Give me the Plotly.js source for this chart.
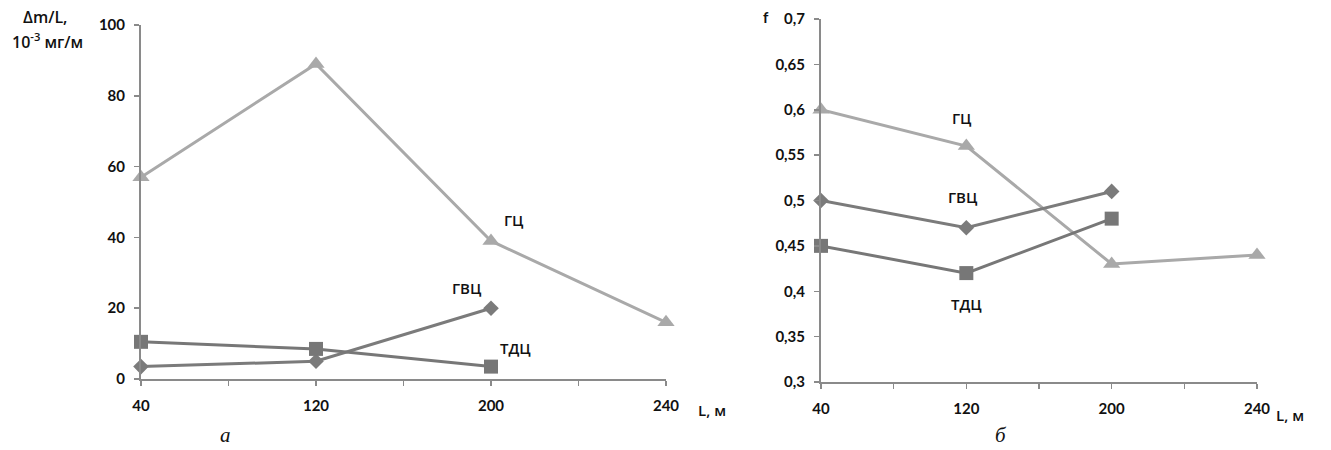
<!DOCTYPE html>
<html><head><meta charset="utf-8">
<script src="https://cdn.plot.ly/plotly-3.0.1.min.js"></script>
<style>html,body{margin:0;padding:0;background:#fff}#c{width:1331px;height:450px}</style>
</head><body><div id="c"></div>
<script>
// Categories (x axis, L, м)
const categories = ['40', '120', '200', '240'];
// Chart a: Δm/L, 10^-3 мг/м
const aGC  = [57, 89, 39, 16];
const aGVC = [3.5, 5, 20];
const aTDC = [10.5, 8.5, 3.5];
// Chart б: f
const bGC  = [0.60, 0.56, 0.43, 0.44];
const bGVC = [0.50, 0.47, 0.51];
const bTDC = [0.45, 0.42, 0.48];
// Tick labels
const aYTicks = [0, 20, 40, 60, 80, 100];
const bYTicks = [0.3, 0.35, 0.4, 0.45, 0.5, 0.55, 0.6, 0.65, 0.7];
const bYTickText = ['0,3','0,35','0,4','0,45','0,5','0,55','0,6','0,65','0,7'];
const seriesNames = ['ГЦ', 'ГВЦ', 'ТДЦ'];

const W = 1331, H = 450;
const idx = categories.map((_, i) => i);
const FONT = {family: 'Lato, "Open Sans", sans-serif', size: 15, color: '#111', weight: 700};
const LFONT = {family: '"Open Sans", sans-serif', size: 15, color: '#111', weight: 600};
const TFONT = {family: '"Open Sans", sans-serif', size: 16, color: '#111', weight: 600};
const AX = '#8a8a8a';
const cGC = '#a9a9a9', cGVC = '#7b7b7b', cTDC = '#777777';

function tr(y, xa, ya, color, sym, size, name) {
  return {x: idx.slice(0, y.length), y: y, xaxis: xa, yaxis: ya, name: name,
    mode: 'lines+markers', cliponaxis: false,
    line: {color: color, width: 3}, marker: {symbol: sym, size: size, color: color}};
}
const data = [
  tr(aGC, 'x', 'y', cGC, 'triangle-up', 15, seriesNames[0]),
  tr(aGVC, 'x', 'y', cGVC, 'diamond', 12, seriesNames[1]),
  tr(aTDC, 'x', 'y', cTDC, 'square', 14, seriesNames[2]),
  tr(bGC, 'x2', 'y2', cGC, 'triangle-up', 15, seriesNames[0]),
  tr(bGVC, 'x2', 'y2', cGVC, 'diamond', 12, seriesNames[1]),
  tr(bTDC, 'x2', 'y2', cTDC, 'square', 14, seriesNames[2])
];

function xax(x0, x1) {
  return {domain: [x0 / W, x1 / W], range: [0, 3], tickvals: idx, ticktext: categories,
    showline: true, linecolor: AX, linewidth: 2, ticks: 'outside', ticklen: 5, tickwidth: 1.5, tickcolor: AX,
    ticklabelstandoff: 7, showgrid: false, zeroline: false, tickfont: FONT,
    minor: {tickvals: [0.5, 1.5, 2.5], ticks: 'outside', ticklen: 5, tickwidth: 1.5, tickcolor: AX}};
}
function yax(y0, y1, rng, tv, tt, anchor) {
  return {domain: [(H - y0) / H, (H - y1) / H], range: rng, tickvals: tv, ticktext: tt, anchor: anchor,
    showline: true, linecolor: AX, linewidth: 2, ticks: 'outside', ticklen: 5, tickwidth: 1.5, tickcolor: AX,
    ticklabelstandoff: 6, showgrid: false, zeroline: false, tickfont: FONT};
}
const ann = (text, x, y, xref, yref, extra) => Object.assign({text, x, y, xref, yref, showarrow: false,
  xanchor: 'center', yanchor: 'middle', font: LFONT}, extra || {});
const px = (x, y) => [x / W, 1 - y / H];
const SERIF = {family: '"Liberation Serif", "DejaVu Serif", serif', size: 21, style: 'italic', color: '#111'};
const layout = {
  width: W, height: H, margin: {l: 0, r: 0, t: 0, b: 0}, showlegend: false,
  paper_bgcolor: '#fff', plot_bgcolor: '#fff',
  xaxis: Object.assign(xax(141, 666), {anchor: 'y'}),
  yaxis: yax(379, 25, [0, 100], aYTicks, aYTicks.map(String), 'x'),
  xaxis2: Object.assign(xax(821, 1257), {anchor: 'y2'}),
  yaxis2: yax(382, 19, [0.3, 0.7], bYTicks, bYTickText, 'x2'),
  annotations: [
    ann(seriesNames[0], 2.13, 45, 'x', 'y'),
    ann(seriesNames[1], 1.86, 25.7, 'x', 'y'),
    ann(seriesNames[2], 2.14, 8.8, 'x', 'y'),
    ann(seriesNames[0], 0.97, 0.591, 'x2', 'y2'),
    ann(seriesNames[1], 0.98, 0.504, 'x2', 'y2'),
    ann(seriesNames[2], 1.0, 0.386, 'x2', 'y2'),
    ann('Δm/L,', ...px(45, 17), 'paper', 'paper', {font: TFONT}),
    ann('10<sup>-3</sup> мг/м', ...px(47, 41), 'paper', 'paper', {font: TFONT}),
    ann('L, м', ...px(712, 410), 'paper', 'paper'),
    ann('f', ...px(766, 17), 'paper', 'paper', {font: FONT}),
    ann('L, м', ...px(1290, 415), 'paper', 'paper'),
    ann('а', ...px(226, 435), 'paper', 'paper', {font: SERIF}),
    ann('б', ...px(1001, 435), 'paper', 'paper', {font: SERIF})
  ]
};
Plotly.newPlot('c', data, layout, {staticPlot: true, displayModeBar: false});
</script></body></html>
